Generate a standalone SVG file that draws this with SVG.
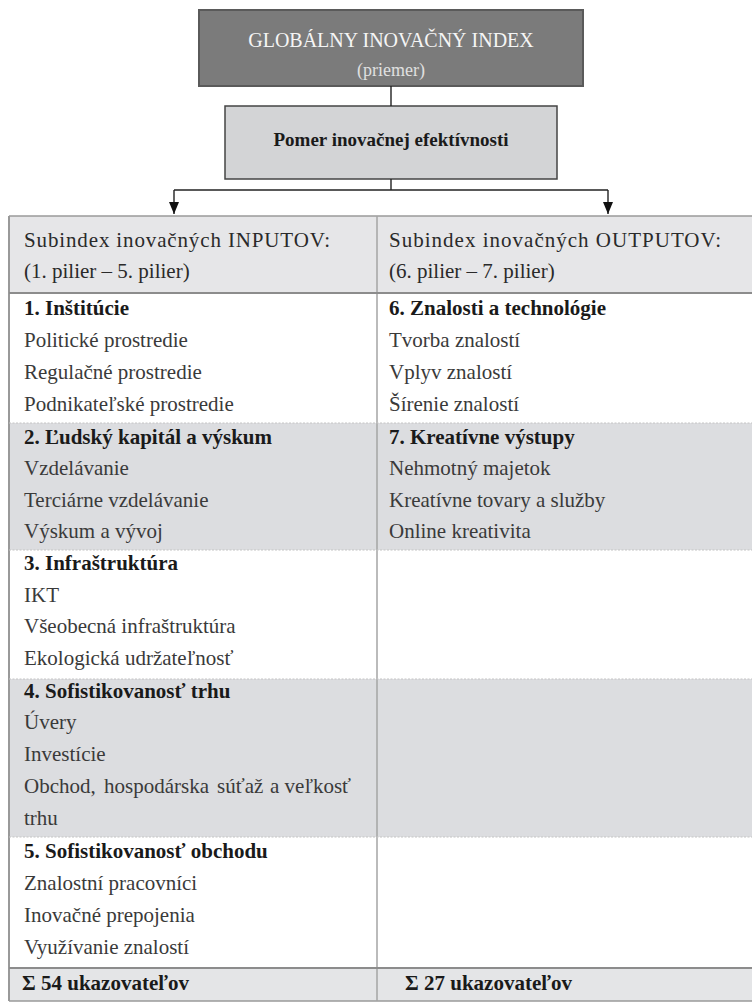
<svg xmlns="http://www.w3.org/2000/svg" width="752" height="1008" viewBox="0 0 752 1008">
<defs>
<marker id="arr" markerWidth="12" markerHeight="10" refX="12" refY="5" orient="auto" markerUnits="userSpaceOnUse" viewBox="0 0 12 10">
<path d="M0,0 L12,5 L0,10 Z" fill="#111"/>
</marker>
<style>
.t{font-family:"Liberation Serif","Times New Roman",serif;font-size:21px;fill:#3a3a3a}
.b{font-family:"Liberation Serif","Times New Roman",serif;font-size:21px;font-weight:bold;fill:#1a1a1a}
.h{font-family:"Liberation Serif","Times New Roman",serif;font-size:21px;fill:#2a2a2a}
.conn{stroke:#222;stroke-width:1.4;fill:none}
.grey{fill:#dcdde0}
.white{fill:#ffffff}
.dot{stroke:#c4c4c4;stroke-width:1;stroke-dasharray:2 1.5}
.solid{stroke:#8c8c8c;stroke-width:2}
</style>
</defs>
<rect width="752" height="1008" fill="#ffffff"/>

<g id="gii">
<rect x="199" y="10" width="384" height="76" fill="#7b7b7b" stroke="#5a5a5a" stroke-width="2"/>
<text x="391" y="47" text-anchor="middle" font-family="Liberation Serif, Times New Roman, serif" font-size="20" fill="#f5f5f5">GLOBÁLNY INOVAČNÝ INDEX</text>
<text x="391" y="76" text-anchor="middle" font-family="Liberation Serif, Times New Roman, serif" font-size="18" fill="#e0e0e0">(priemer)</text>
</g>

<g id="pomer">
<rect x="225" y="106" width="332" height="73" fill="#d3d4d6" stroke="#444" stroke-width="1.5"/>
<text x="391" y="146" text-anchor="middle" font-family="Liberation Serif, Times New Roman, serif" font-size="19" font-weight="bold" fill="#1a1a1a">Pomer inovačnej efektívnosti</text>
</g>

<g id="table">
<rect x="9" y="216" width="760" height="77" fill="#e6e6e8"/>
<rect x="9" y="293" width="760" height="130" class="white"/>
<rect x="9" y="423" width="760" height="127" class="grey"/>
<rect x="9" y="550" width="760" height="129" class="white"/>
<rect x="9" y="679" width="760" height="158" class="grey"/>
<rect x="9" y="837" width="760" height="131" class="white"/>
<rect x="9" y="968" width="760" height="33" fill="#e4e5e7"/>
<line x1="9" y1="216" x2="752" y2="216" stroke="#9a9a9a" stroke-width="1.5"/>
<line x1="9" y1="1001" x2="752" y2="1001" stroke="#9a9a9a" stroke-width="1.5"/>
<line x1="9" y1="216" x2="9" y2="1001" stroke="#999" stroke-width="2"/>
<line x1="377" y1="216" x2="377" y2="1001" stroke="#a5a5a5" stroke-width="1.5"/>
<line x1="9" y1="293" x2="752" y2="293" class="solid"/>
<line x1="9" y1="968" x2="752" y2="968" class="solid"/>
<line x1="9" y1="423" x2="752" y2="423" class="dot"/>
<line x1="9" y1="550" x2="752" y2="550" class="dot"/>
<line x1="9" y1="679" x2="752" y2="679" class="dot"/>
<line x1="9" y1="837" x2="752" y2="837" class="dot"/>
</g>

<g id="inputs-header">
<text x="24" y="247" class="h" textLength="306" lengthAdjust="spacing">Subindex inovačných INPUTOV:</text>
<text x="24" y="278" class="h">(1. pilier – 5. pilier)</text>
</g>
<g id="outputs-header">
<text x="389" y="247" class="h" textLength="332" lengthAdjust="spacing">Subindex inovačných OUTPUTOV:</text>
<text x="389" y="278" class="h">(6. pilier – 7. pilier)</text>
</g>

<g id="pillar1">
<text x="24" y="315" class="b">1. Inštitúcie</text>
<text x="24" y="347" class="t">Politické prostredie</text>
<text x="24" y="379" class="t">Regulačné prostredie</text>
<text x="24" y="411" class="t">Podnikateľské prostredie</text>
</g>
<g id="pillar2">
<text x="24" y="444" class="b">2. Ľudský kapitál a výskum</text>
<text x="24" y="475" class="t">Vzdelávanie</text>
<text x="24" y="507" class="t">Terciárne vzdelávanie</text>
<text x="24" y="538" class="t">Výskum a vývoj</text>
</g>
<g id="pillar3">
<text x="24" y="570" class="b">3. Infraštruktúra</text>
<text x="24" y="602" class="t">IKT</text>
<text x="24" y="633" class="t">Všeobecná infraštruktúra</text>
<text x="24" y="665" class="t">Ekologická udržateľnosť</text>
</g>
<g id="pillar4">
<text x="24" y="698" class="b">4. Sofistikovanosť trhu</text>
<text x="24" y="729" class="t">Úvery</text>
<text x="24" y="761" class="t">Investície</text>
<text y="793" class="t"><tspan x="24">Obchod,</tspan> <tspan x="104">hospodárska</tspan> <tspan x="217">súťaž</tspan> <tspan x="270">a veľkosť</tspan></text>
<text x="24" y="825" class="t">trhu</text>
</g>
<g id="pillar5">
<text x="24" y="858" class="b">5. Sofistikovanosť obchodu</text>
<text x="24" y="890" class="t">Znalostní pracovníci</text>
<text x="24" y="922" class="t">Inovačné prepojenia</text>
<text x="24" y="954" class="t">Využívanie znalostí</text>
</g>
<g id="pillar6">
<text x="389" y="315" class="b">6. Znalosti a technológie</text>
<text x="389" y="347" class="t">Tvorba znalostí</text>
<text x="389" y="379" class="t">Vplyv znalostí</text>
<text x="389" y="411" class="t">Šírenie znalostí</text>
</g>
<g id="pillar7">
<text x="389" y="444" class="b">7. Kreatívne výstupy</text>
<text x="389" y="475" class="t">Nehmotný majetok</text>
<text x="389" y="507" class="t">Kreatívne tovary a služby</text>
<text x="389" y="538" class="t">Online kreativita</text>
</g>
<g id="sum-inputs">
<text x="22" y="990" class="b">Σ 54 ukazovateľov</text>
</g>
<g id="sum-outputs">
<text x="405" y="990" class="b">Σ 27 ukazovateľov</text>
</g>

<g id="connectors">
<line x1="391" y1="86" x2="391" y2="106" class="conn"/>
<line x1="391" y1="179" x2="391" y2="190" class="conn"/>
<line x1="174" y1="190" x2="608" y2="190" class="conn"/>
<line x1="174" y1="190" x2="174" y2="214" class="conn" marker-end="url(#arr)"/>
<line x1="608" y1="190" x2="608" y2="214" class="conn" marker-end="url(#arr)"/>
</g>
</svg>
